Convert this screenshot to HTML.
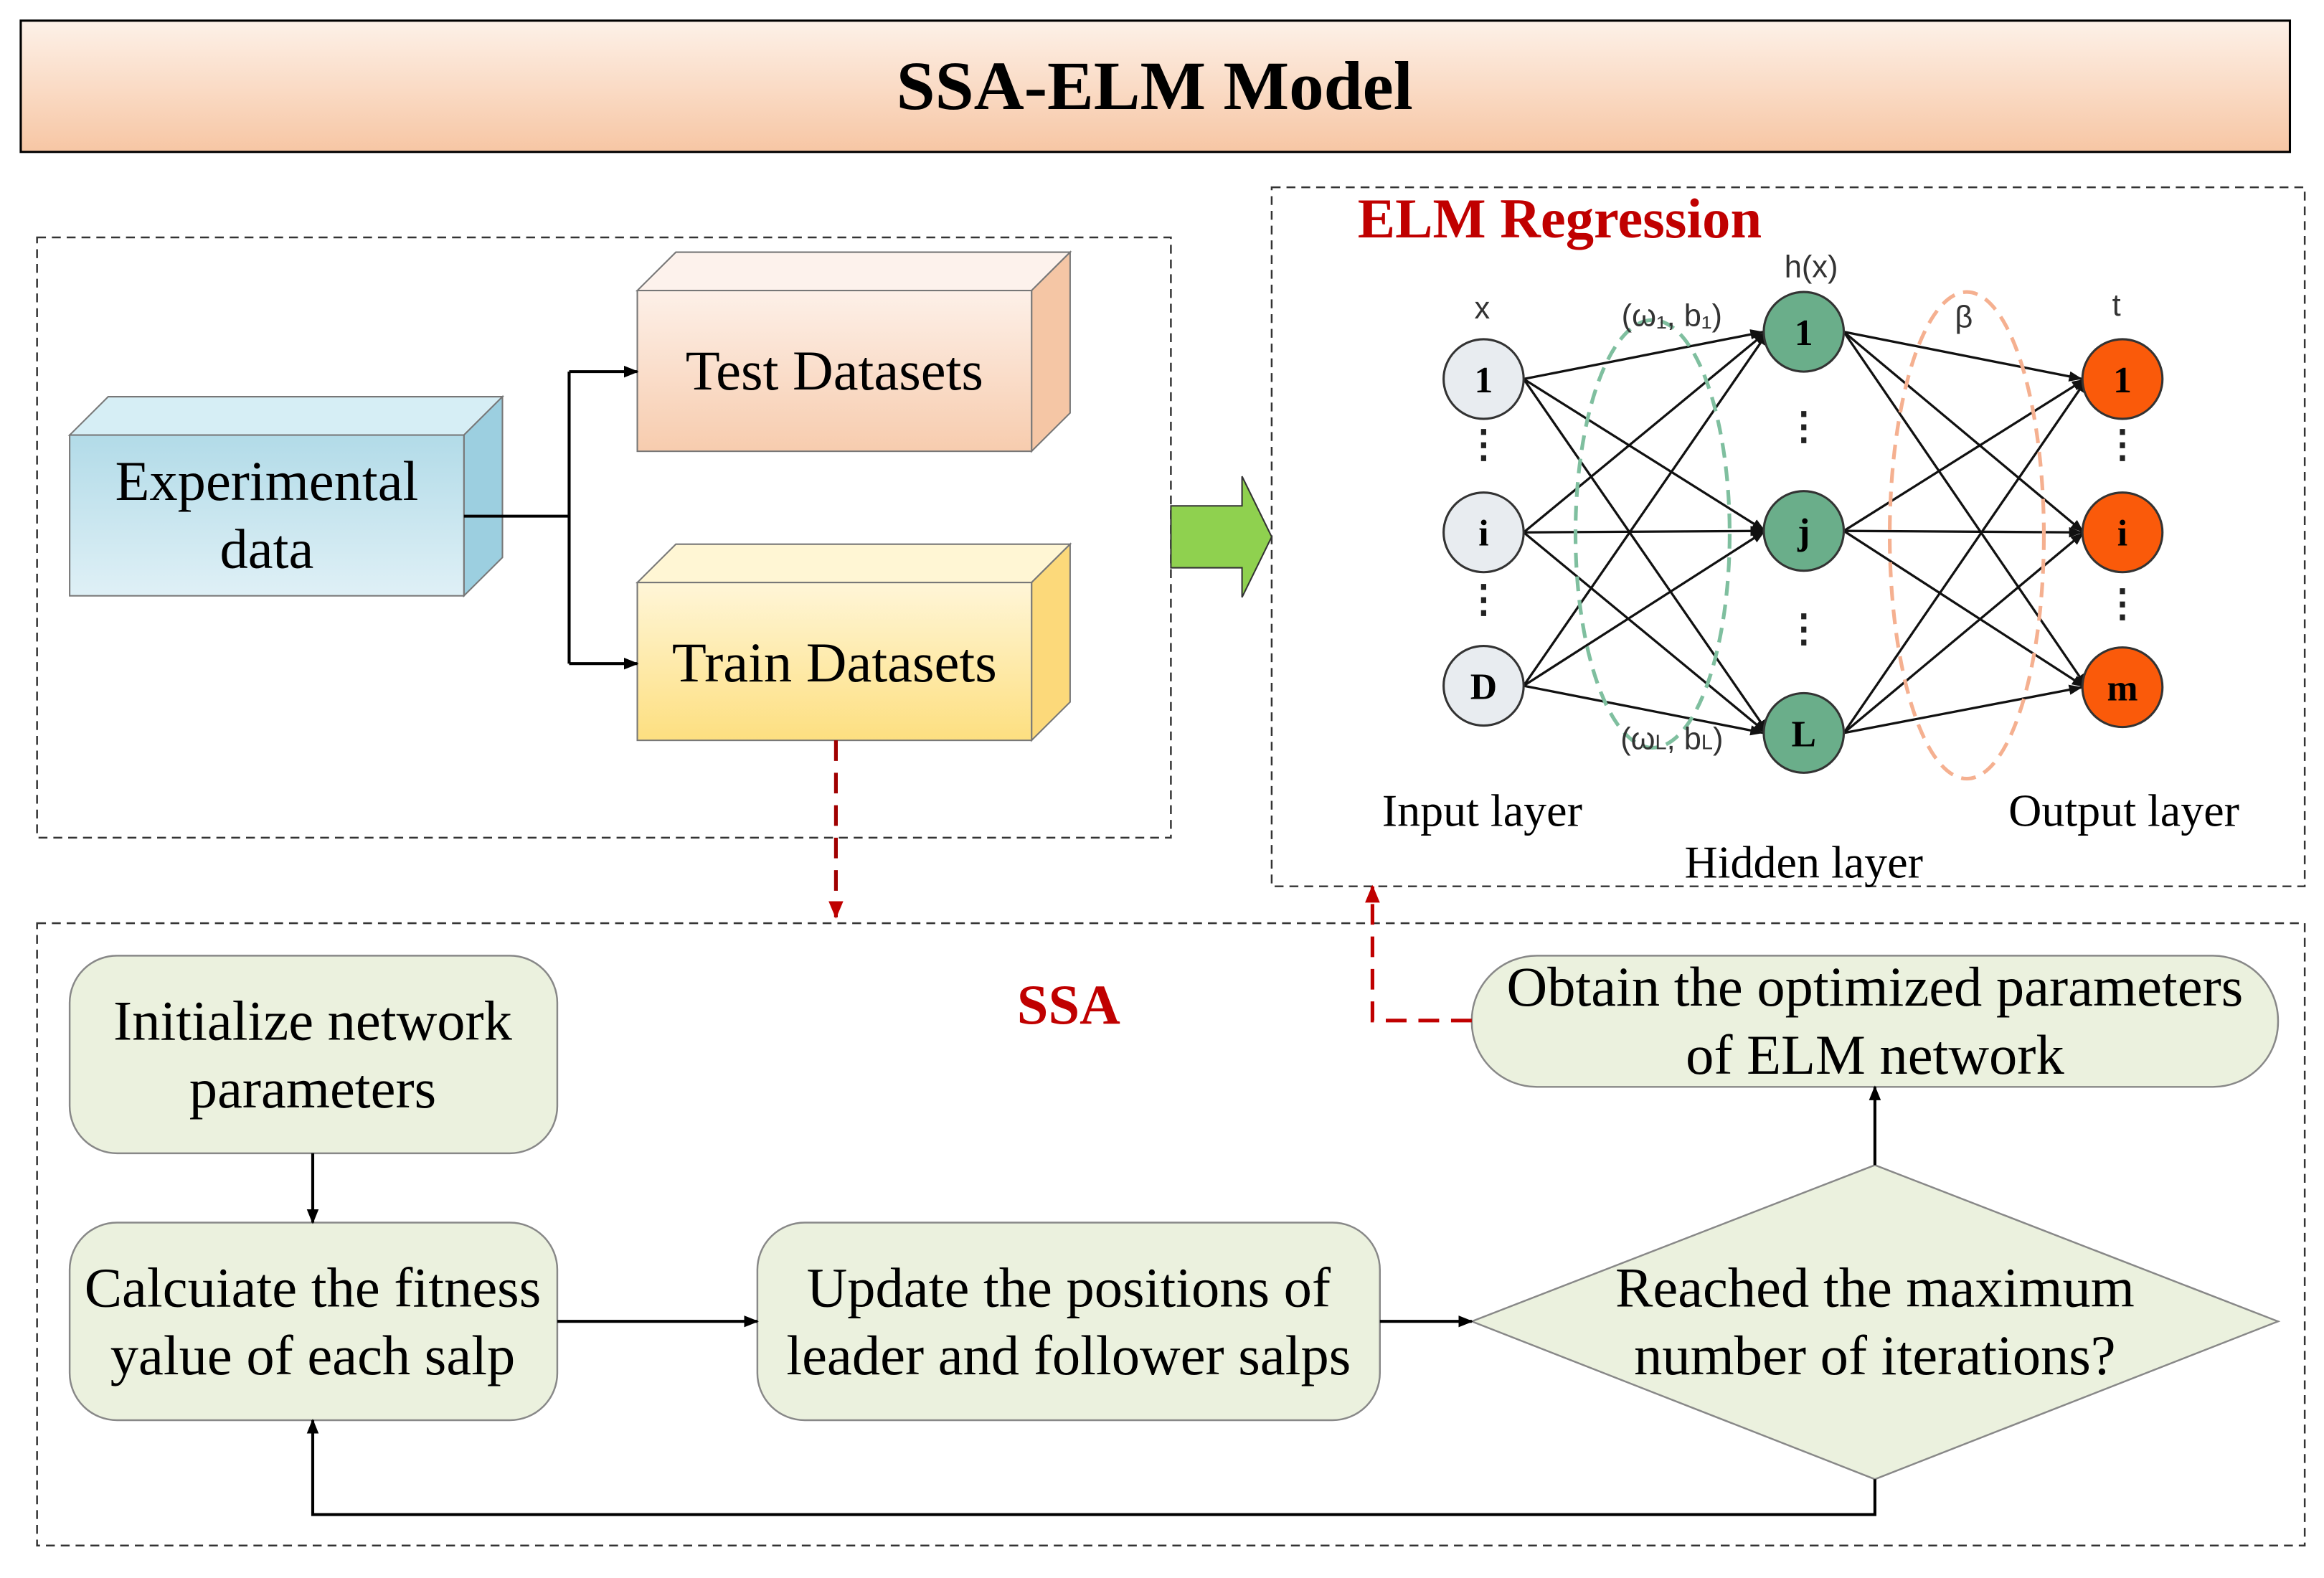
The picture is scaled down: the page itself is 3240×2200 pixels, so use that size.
<!DOCTYPE html>
<html><head><meta charset="utf-8"><style>html,body{margin:0;padding:0;background:#fff}svg{display:block}</style></head>
<body>
<svg width="3240" height="2200" viewBox="0 0 1568 1070" preserveAspectRatio="none" xmlns="http://www.w3.org/2000/svg" font-family="'Liberation Serif',serif">
<defs>
<linearGradient id="tg" x1="0" y1="0" x2="0" y2="1"><stop offset="0" stop-color="#fdf1e8"/><stop offset="1" stop-color="#f7c6a4"/></linearGradient>
<linearGradient id="bl" x1="0" y1="0" x2="0" y2="1"><stop offset="0" stop-color="#b2dbe8"/><stop offset="1" stop-color="#dff0f6"/></linearGradient>
<linearGradient id="pe" x1="0" y1="0" x2="0" y2="1"><stop offset="0" stop-color="#fdf0e8"/><stop offset="1" stop-color="#f7ccae"/></linearGradient>
<linearGradient id="ye" x1="0" y1="0" x2="0" y2="1"><stop offset="0" stop-color="#fff6d8"/><stop offset="1" stop-color="#fddf80"/></linearGradient>
<marker id="a" markerWidth="10" markerHeight="8" refX="9" refY="4" orient="auto" markerUnits="userSpaceOnUse"><path d="M0,0L10,4L0,8z" fill="#000"/></marker>
<marker id="n" markerWidth="9" markerHeight="7" refX="9" refY="3.5" orient="auto" markerUnits="userSpaceOnUse"><path d="M0,0L9,3.5L0,7z" fill="#111"/></marker>
<marker id="r" markerWidth="12" markerHeight="10" refX="11" refY="5" orient="auto" markerUnits="userSpaceOnUse"><path d="M0,0L12,5L0,10z" fill="#c00000"/></marker>
</defs>
<rect x="14" y="14" width="1531" height="89" fill="url(#tg)" stroke="#000" stroke-width="1.5"/>
<text x="779" y="74" font-size="47" font-weight="bold" text-anchor="middle">SSA-ELM Model</text>
<g fill="none" stroke="#333" stroke-width="1.2" stroke-dasharray="6,4">
<rect x="25" y="161" width="765" height="407"/>
<rect x="858" y="127" width="697" height="474"/>
<rect x="25" y="626" width="1530" height="422"/>
</g>
<g stroke="#777" stroke-width="1">
<polygon points="47,295 73,269 339,269 313,295" fill="#d6eef5"/>
<polygon points="313,295 339,269 339,378 313,404" fill="#9ccfe0"/>
<rect x="47" y="295" width="266" height="109" fill="url(#bl)"/>
<polygon points="430,197 456,171 722,171 696,197" fill="#fdf2ec"/>
<polygon points="696,197 722,171 722,280 696,306" fill="#f5c6a5"/>
<rect x="430" y="197" width="266" height="109" fill="url(#pe)"/>
<polygon points="430,395 456,369 722,369 696,395" fill="#fff6d4"/>
<polygon points="696,395 722,369 722,476 696,502" fill="#fcd97a"/>
<rect x="430" y="395" width="266" height="107" fill="url(#ye)"/>
</g>
<g font-size="38" text-anchor="middle">
<text x="180" y="339">Experimental</text><text x="180" y="385">data</text>
<text x="563" y="264">Test Datasets</text>
<text x="563" y="462">Train Datasets</text>
</g>
<g fill="none" stroke="#000" stroke-width="2">
<path d="M313,350H384"/><path d="M384,252V450"/>
<path d="M384,252H430" marker-end="url(#a)"/><path d="M384,450H430" marker-end="url(#a)"/>
</g>
<path d="M564,502V622" stroke="#a00000" stroke-width="2.5" stroke-dasharray="14,8" fill="none" marker-end="url(#r)"/>
<polygon points="790,343 838,343 838,323 858,364 838,405 838,385 790,385" fill="#8fd14f" stroke="#333" stroke-width="1"/>
<text x="916" y="161" font-size="38" font-weight="bold" fill="#c00000">ELM Regression</text>
<g stroke="#111" stroke-width="1.6" fill="none" marker-end="url(#n)">
<path d="M1028,257L1190,225"/><path d="M1028,257L1191,360"/><path d="M1028,257L1193,497"/>
<path d="M1028,361L1192,225"/><path d="M1028,361L1190,360"/><path d="M1028,361L1192,497"/>
<path d="M1028,465L1193,225"/><path d="M1028,465L1191,360"/><path d="M1028,465L1190,497"/>
<path d="M1244,225L1405,257"/><path d="M1244,225L1406,361"/><path d="M1244,225L1408,466"/>
<path d="M1244,360L1407,257"/><path d="M1244,360L1405,361"/><path d="M1244,360L1407,466"/>
<path d="M1244,497L1408,257"/><path d="M1244,497L1406,361"/><path d="M1244,497L1405,466"/>
</g>
<ellipse cx="1115" cy="362" rx="52" ry="145" fill="none" stroke="#7fbf9f" stroke-width="2.5" stroke-dasharray="10,6"/>
<ellipse cx="1327" cy="363" rx="52" ry="165" fill="none" stroke="#f5b090" stroke-width="2.5" stroke-dasharray="10,6"/>
<g stroke="#333" stroke-width="1.5">
<circle cx="1001" cy="257" r="27" fill="#e8ecf0"/><circle cx="1001" cy="361" r="27" fill="#e8ecf0"/><circle cx="1001" cy="465" r="27" fill="#e8ecf0"/>
<circle cx="1217" cy="225" r="27" fill="#6aae8a"/><circle cx="1217" cy="360" r="27" fill="#6aae8a"/><circle cx="1217" cy="497" r="27" fill="#6aae8a"/>
<circle cx="1432" cy="257" r="27" fill="#fa5a0a"/><circle cx="1432" cy="361" r="27" fill="#fa5a0a"/><circle cx="1432" cy="466" r="27" fill="#fa5a0a"/>
</g>
<g font-size="25" font-weight="bold" text-anchor="middle">
<text x="1001" y="266">1</text><text x="1001" y="370">i</text><text x="1001" y="474">D</text>
<text x="1217" y="234">1</text><text x="1217" y="369">j</text><text x="1217" y="506">L</text>
<text x="1432" y="266">1</text><text x="1432" y="370">i</text><text x="1432" y="475">m</text>
</g>
<g font-size="26" font-weight="bold" text-anchor="middle" fill="#222">
<text x="1001" y="310">⋮</text><text x="1001" y="415">⋮</text>
<text x="1217" y="298">⋮</text><text x="1217" y="435">⋮</text>
<text x="1432" y="310">⋮</text><text x="1432" y="418">⋮</text>
</g>
<g font-family="'Liberation Sans',sans-serif" font-size="21" fill="#333" text-anchor="middle">
<text x="1000" y="216">x</text><text x="1222" y="188">h(x)</text><text x="1428" y="214">t</text><text x="1325" y="222">β</text>
<text x="1128" y="221">(ω₁,  b₁)</text><text x="1128" y="508">(ω<tspan font-size="14">L</tspan>,  b<tspan font-size="14">L</tspan>)</text>
</g>
<g font-size="31" text-anchor="middle">
<text x="1000" y="560">Input layer</text><text x="1217" y="595">Hidden layer</text><text x="1433" y="560">Output layer</text>
</g>
<text x="721" y="694" font-size="38" font-weight="bold" fill="#c00000" text-anchor="middle">SSA</text>
<g fill="#ebf1de" stroke="#888" stroke-width="1.2">
<rect x="47" y="648" width="329" height="134" rx="32"/>
<rect x="47" y="829" width="329" height="134" rx="32"/>
<rect x="511" y="829" width="420" height="134" rx="32"/>
<rect x="993" y="648" width="544" height="89" rx="44"/>
<polygon points="993,896 1265,790 1537,896 1265,1003"/>
</g>
<g font-size="38" text-anchor="middle">
<text x="211" y="705">Initialize network</text><text x="211" y="751">parameters</text>
<text x="211" y="886">Calcuiate the fitness</text><text x="211" y="932">yalue of each salp</text>
<text x="721" y="886">Update the positions of</text><text x="721" y="932">leader and follower salps</text>
<text x="1265" y="682">Obtain the optimized parameters</text><text x="1265" y="728">of ELM network</text>
<text x="1265" y="886">Reached the maximum</text><text x="1265" y="932">number of iterations?</text>
</g>
<g fill="none" stroke="#000" stroke-width="2">
<path d="M211,782V829" marker-end="url(#a)"/>
<path d="M376,896H511" marker-end="url(#a)"/>
<path d="M931,896H993" marker-end="url(#a)"/>
<path d="M1265,790V737" marker-end="url(#a)"/>
<path d="M1265,1003V1027H211V963" marker-end="url(#a)"/>
</g>
<path d="M993,692H926V601" stroke="#c00000" stroke-width="2.5" stroke-dasharray="14,8" fill="none" marker-end="url(#r)"/>
</svg>
</body></html>
